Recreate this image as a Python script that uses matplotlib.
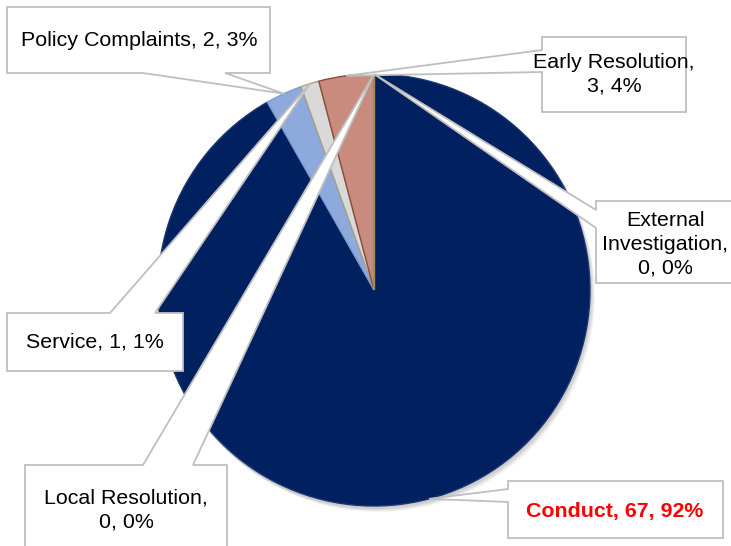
import numpy as np
import matplotlib
matplotlib.use("Agg")
import matplotlib.pyplot as plt
from matplotlib.patches import Polygon, Circle

# ---- data ----
categories = ["Conduct", "Policy Complaints", "Service", "Early Resolution",
              "External Investigation", "Local Resolution"]
values = [67, 2, 1, 3, 0, 0]
colors = ["#002060", "#8EA9DB", "#D9D9D9", "#C98B7E", "#A08C5A", "#A08C5A"]
edges = ["#1A3570", "#7F9AD0", "#A8A084", "#8C4A3C", "#A08C5A", "#A08C5A"]
label_breaks = {
    "Conduct": "{n}, {v}, {p}%",
    "Policy Complaints": "{n}, {v}, {p}%",
    "Service": "{n}, {v}, {p}%",
    "Early Resolution": "{n},\n{v}, {p}%",
    "External Investigation": "External\nInvestigation,\n{v}, {p}%",
    "Local Resolution": "{n},\n{v}, {p}%",
}

W, H = 731, 546
fig = plt.figure(figsize=(W / 100, H / 100), dpi=100)
ax = fig.add_axes([0, 0, 1, 1])
ax.set_xlim(0, W)
ax.set_ylim(0, H)
ax.axis("off")

def P(x, y):
    return (x, H - y)

cx, cy = P(374, 290)
R = 216

# soft shadow
for i, a in enumerate([0.06, 0.05, 0.05, 0.04]):
    ax.add_patch(Circle((cx + 1 + i, cy - 2 - i), R + 1, color="black",
                        alpha=a, lw=0, zorder=0))

wedges, _ = ax.pie(values, colors=colors, startangle=90, counterclock=False,
                   center=(cx, cy), radius=R, frame=True,
                   wedgeprops=dict(linewidth=1.0))
for w, e, v in zip(wedges, edges, values):
    w.set_edgecolor(e)
    w.set_zorder(1)
    if v == 0:
        w.set_linewidth(1.6)
ax.set_xlim(0, W)
ax.set_ylim(0, H)
ax.set_aspect("equal")
ax.axis("off")

total = sum(values)
cum = np.cumsum([0] + values)
anchors = {}
for i, c in enumerate(categories):
    mid = (cum[i] + values[i] / 2) / total * 360.0
    a = np.deg2rad(mid)
    anchors[c] = (cx + R * np.sin(a), cy + R * np.cos(a))

# callout layout (pixel coords, y down)
layout = {
    "Conduct": dict(box=(508, 481, 723, 538), side="left", base=(489, 502), txt=(615, 511)),
    "Policy Complaints": dict(box=(7, 7, 270, 73), side="bottom", base=(143, 225), txt=(139, 40)),
    "Service": dict(box=(7, 313, 183, 371), side="top", base=(110, 155), txt=(95, 342)),
    "Early Resolution": dict(box=(542, 37, 686, 112), side="left", base=(50, 72), txt=(614, 74)),
    "External Investigation": dict(box=(596, 201, 736, 283), side="left", base=(210, 228), txt=(665, 244)),
    "Local Resolution": dict(box=(25, 465, 227, 552), side="top", base=(143, 193), txt=(126, 510)),
}

for i, c in enumerate(categories):
    L = layout[c]
    x0, y0, x1, y1 = L["box"]
    b1, b2 = L["base"]
    tip = anchors[c]
    if L["side"] == "bottom":
        pts = [P(x0, y0), P(x1, y0), P(x1, y1), P(b2, y1), tip, P(b1, y1), P(x0, y1)]
    elif L["side"] == "top":
        pts = [P(x0, y0), P(b1, y0), tip, P(b2, y0), P(x1, y0), P(x1, y1), P(x0, y1)]
    else:  # left
        pts = [P(x0, y0), P(x1, y0), P(x1, y1), P(x0, y1), P(x0, b2), tip, P(x0, b1)]
    ax.add_patch(Polygon(pts, closed=True, facecolor="white", edgecolor="#BFBFBF",
                         lw=1.3, zorder=3, joinstyle="miter"))
    pct = int(round(values[i] / total * 100))
    txt = label_breaks[c].format(n=c, v=values[i], p=pct)
    tx, ty = P(*L["txt"])
    bold = c == "Conduct"
    ax.text(tx, ty, txt, ha="center", va="center", fontsize=15.4,
            family="Liberation Sans", color="#FF0000" if bold else "#000000",
            fontweight="bold" if bold else "normal", linespacing=1.3, zorder=4)

fig.savefig("out.png", dpi=100)
